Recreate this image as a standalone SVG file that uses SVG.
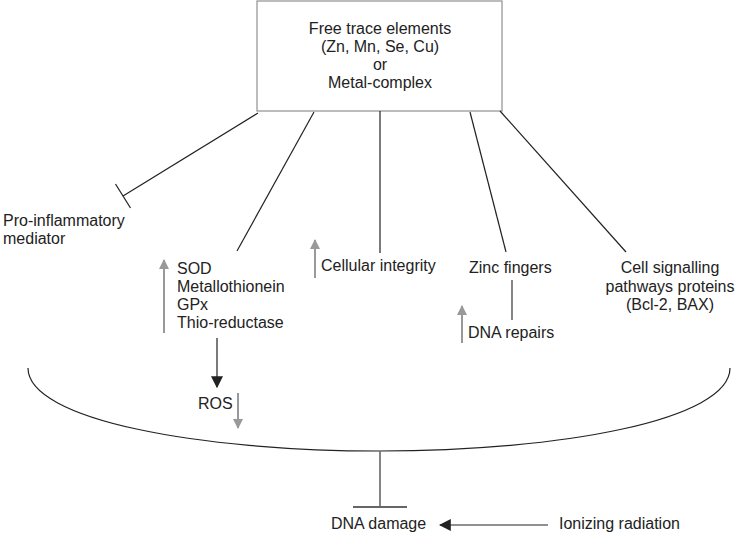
<svg xmlns="http://www.w3.org/2000/svg" width="735" height="535" viewBox="0 0 735 535">
<style>
text{font-family:"Liberation Sans",Arial,sans-serif;font-size:16px;fill:#222}
.c{text-anchor:middle}
.ln{stroke:#222;stroke-width:1.2;fill:none}
.gr{stroke:#999;stroke-width:2;fill:none}
.dg{stroke:#666;stroke-width:1.6;fill:none}
</style>
<defs>
<marker id="ga" viewBox="0 0 10 10" refX="9" refY="5" markerWidth="10" markerHeight="10" markerUnits="userSpaceOnUse" orient="auto"><path d="M0,0 L10,5 L0,10 Z" fill="#999"/></marker>
<marker id="ba" viewBox="0 0 10 10" refX="9" refY="5" markerWidth="12" markerHeight="12" markerUnits="userSpaceOnUse" orient="auto"><path d="M0,0 L10,5 L0,10 Z" fill="#222"/></marker>
</defs>
<g id="source">
<rect x="257" y="1" width="245" height="110" fill="#fff" stroke="#999" stroke-width="1.3"/>
<text class="c" x="380" y="34">Free trace elements</text>
<text class="c" x="380" y="52">(Zn, Mn, Se, Cu)</text>
<text class="c" x="380" y="70">or</text>
<text class="c" x="380" y="88">Metal-complex</text>
</g>
<g id="proinflammatory"><text x="3" y="226">Pro-inflammatory</text><text x="3" y="244">mediator</text></g>
<g id="antioxidants">
<text x="177" y="274">SOD</text><text x="177" y="292">Metallothionein</text><text x="177" y="310">GPx</text><text x="177" y="328">Thio-reductase</text>
<line class="gr" x1="164" y1="333" x2="164" y2="260" marker-end="url(#ga)"/>
</g>
<g id="ros"><text x="198" y="409">ROS</text><line class="gr" x1="238" y1="393" x2="238" y2="428" marker-end="url(#ga)"/></g>
<g id="cellular"><text x="321" y="271">Cellular integrity</text><line class="gr" x1="315" y1="278" x2="315" y2="240" marker-end="url(#ga)"/></g>
<g id="zinc"><text x="469" y="273">Zinc fingers</text></g>
<g id="dnarepair"><text x="468" y="338">DNA repairs</text><line class="gr" x1="462" y1="343" x2="462" y2="306" marker-end="url(#ga)"/></g>
<g id="signalling"><text class="c" x="670" y="273">Cell signalling</text><text class="c" x="670" y="292">pathways proteins</text><text class="c" x="670" y="310">(Bcl-2, BAX)</text></g>
<g id="dnadamage"><text x="331" y="529">DNA damage</text></g>
<g id="radiation"><text x="559" y="529">Ionizing radiation</text></g>
<g id="connectors">
<line class="ln" x1="258" y1="113" x2="123" y2="196"/>
<line class="ln" x1="115.5" y1="184" x2="130.5" y2="208"/>
<line class="ln" x1="314" y1="112" x2="237" y2="251"/>
<line class="ln" x1="380" y1="111" x2="380" y2="253"/>
<line class="ln" x1="470" y1="112" x2="506" y2="252"/>
<line class="ln" x1="500" y1="111" x2="626" y2="252"/>
<line class="dg" x1="512" y1="280" x2="512" y2="320"/>
<line class="ln" x1="217" y1="338" x2="217" y2="387" stroke-width="1.5" marker-end="url(#ba)"/>
<path class="ln" d="M28,368 C28,420 200,451 380,451 C560,451 730,420 730,368"/>
<line class="dg" x1="380" y1="451" x2="380" y2="506"/>
<line x1="353" y1="507" x2="407" y2="507" stroke="#666" stroke-width="2.2"/>
<line class="ln" x1="548" y1="525" x2="440" y2="525" stroke-width="1.5" marker-end="url(#ba)"/>
</g>
</svg>
